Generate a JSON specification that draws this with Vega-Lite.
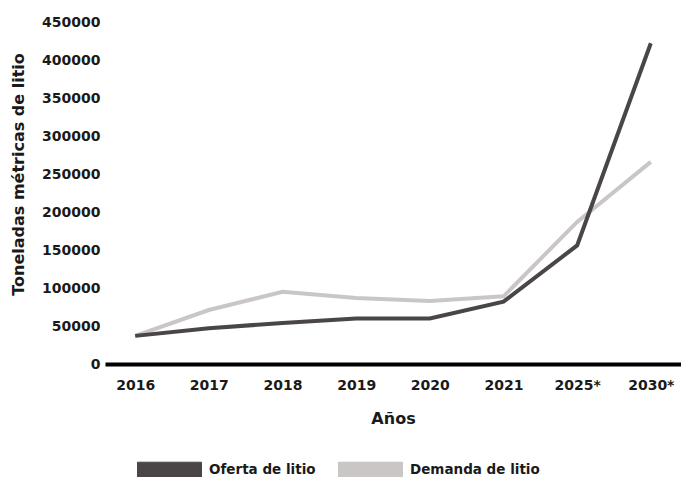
{
  "$schema": "https://vega.github.io/schema/vega-lite/v6.json",
  "width": 576,
  "height": 342,
  "autosize": {"type": "none"},
  "padding": {"left": 105, "top": 22, "right": 0, "bottom": 113},
  "background": "white",
  "config": {
    "view": {"stroke": null},
    "font": "DejaVu Sans"
  },
  "data": {
    "values": [
      {"anio": "2016", "serie": "Demanda de litio", "t": 37000},
      {"anio": "2017", "serie": "Demanda de litio", "t": 71000},
      {"anio": "2018", "serie": "Demanda de litio", "t": 95000},
      {"anio": "2019", "serie": "Demanda de litio", "t": 87000},
      {"anio": "2020", "serie": "Demanda de litio", "t": 83000},
      {"anio": "2021", "serie": "Demanda de litio", "t": 89000},
      {"anio": "2025*", "serie": "Demanda de litio", "t": 187000},
      {"anio": "2030*", "serie": "Demanda de litio", "t": 266000},
      {"anio": "2016", "serie": "Oferta de litio", "t": 37000},
      {"anio": "2017", "serie": "Oferta de litio", "t": 47000},
      {"anio": "2018", "serie": "Oferta de litio", "t": 54000},
      {"anio": "2019", "serie": "Oferta de litio", "t": 60000},
      {"anio": "2020", "serie": "Oferta de litio", "t": 60000},
      {"anio": "2021", "serie": "Oferta de litio", "t": 82000},
      {"anio": "2025*", "serie": "Oferta de litio", "t": 156000},
      {"anio": "2030*", "serie": "Oferta de litio", "t": 422000}
    ]
  },
  "mark": {"type": "line", "strokeWidth": 4, "strokeJoin": "miter"},
  "encoding": {
    "x": {
      "field": "anio",
      "type": "ordinal",
      "sort": null,
      "scale": {"type": "point", "padding": 0.41},
      "axis": {
        "title": "Años",
        "titleFontSize": 16,
        "titleFontWeight": "bold",
        "titleColor": "#1a1a1a",
        "titleBaseline": "middle",
        "titleY": 54,
        "labelAngle": 0,
        "labelFontSize": 14,
        "labelFontWeight": "bold",
        "labelColor": "#1a1a1a",
        "labelPadding": 14,
        "ticks": false,
        "tickSize": 0,
        "domainColor": "#000000",
        "domainWidth": 4,
        "grid": false
      }
    },
    "y": {
      "field": "t",
      "type": "quantitative",
      "scale": {"domain": [0, 450000], "nice": false},
      "axis": {
        "title": "Toneladas métricas de litio",
        "titleFontSize": 16,
        "titleFontWeight": "bold",
        "titleColor": "#1a1a1a",
        "titleX": -87,
        "titleY": 152,
        "titleAlign": "center",
        "titleBaseline": "middle",
        "titleAngle": -90,
        "values": [0, 50000, 100000, 150000, 200000, 250000, 300000, 350000, 400000, 450000],
        "format": "d",
        "labelFontSize": 14,
        "labelFontWeight": "bold",
        "labelColor": "#1a1a1a",
        "labelPadding": 5,
        "ticks": false,
        "tickSize": 0,
        "domain": false,
        "grid": false
      }
    },
    "color": {
      "field": "serie",
      "type": "nominal",
      "scale": {"domain": ["Oferta de litio", "Demanda de litio"], "range": ["#4a4546", "#cac6c6"]},
      "legend": {
        "title": null,
        "orient": "none",
        "direction": "horizontal",
        "legendX": 32,
        "legendY": 415,
        "symbolType": "M-1,-0.23H1V0.23H-1Z",
        "symbolSize": 4096,
        "symbolStrokeWidth": 1,
        "symbolStrokeColor": "#888888",
        "labelFontSize": 13.5,
        "labelFontWeight": "bold",
        "labelColor": "#1a1a1a",
        "labelOffset": 7,
        "columnPadding": 20,
        "encode": {
          "symbols": {
            "update": {
              "fill": {"scale": "color", "field": "value"},
              "fillOpacity": {"value": 1},
              "stroke": {"value": "#8a8585"},
              "strokeWidth": {"value": 1}
            }
          }
        }
      }
    }
  }
}
